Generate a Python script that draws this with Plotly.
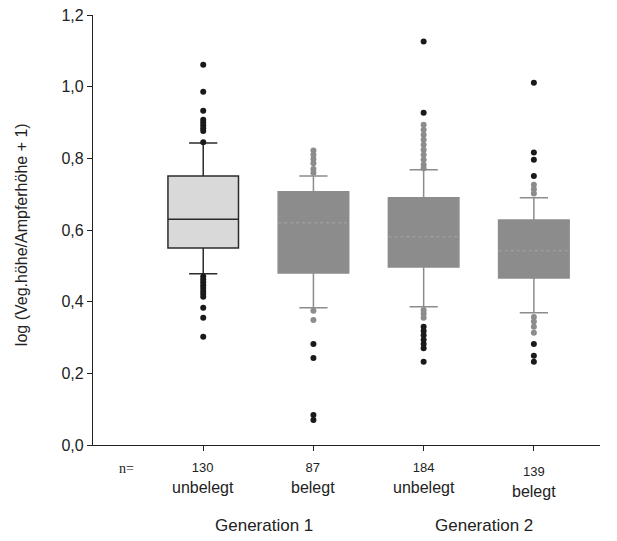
import plotly.graph_objects as go

# ---- data ----
categories = ["unbelegt", "belegt", "unbelegt", "belegt"]
n_values = [130, 87, 184, 139]
generations = ["Generation 1", "Generation 2"]

q1_vals = [0.550, 0.480, 0.497, 0.466]
median_vals = [0.630, 0.620, 0.581, 0.542]
q3_vals = [0.751, 0.707, 0.690, 0.628]
lower_whisker = [0.478, 0.383, 0.386, 0.369]
upper_whisker = [0.843, 0.751, 0.768, 0.690]

# outliers (black = extreme, gray = near whisker)
out_black = [
    [1.061, 0.986, 0.933, 0.908, 0.900, 0.892, 0.884, 0.876, 0.845,
     0.470, 0.462, 0.454, 0.446, 0.438, 0.430, 0.422, 0.414, 0.383, 0.355, 0.302],
    [0.282, 0.243, 0.084, 0.070],
    [1.126, 0.927, 0.330, 0.318, 0.306, 0.294, 0.282, 0.270, 0.232],
    [1.011, 0.816, 0.796, 0.751, 0.282, 0.249, 0.232],
]
out_gray = [
    [],
    [0.822, 0.810, 0.798, 0.786, 0.770, 0.760, 0.375, 0.349],
    [0.894, 0.880, 0.866, 0.852, 0.838, 0.824, 0.810, 0.796, 0.782, 0.772,
     0.377, 0.366, 0.355],
    [0.726, 0.714, 0.702, 0.357, 0.345, 0.330, 0.313],
]

y_title = "log (Veg.höhe/Ampferhöhe + 1)"

fill_colors = ["#d9d9d9", "#8c8c8c", "#8c8c8c", "#8c8c8c"]
line_colors = ["#2b2b2b", "#8c8c8c", "#8c8c8c", "#8c8c8c"]
box_width = 0.64

fig = go.Figure()
for i in range(4):
    fig.add_trace(go.Box(
        x=[i], q1=[q1_vals[i]], median=[median_vals[i]], q3=[q3_vals[i]],
        lowerfence=[lower_whisker[i]], upperfence=[upper_whisker[i]],
        boxpoints=False, width=box_width, whiskerwidth=0.4,
        fillcolor=fill_colors[i], line=dict(color=line_colors[i], width=1.5),
        showlegend=False, hoverinfo="skip"))
    if i > 0:
        fig.add_trace(go.Scatter(
            x=[i - box_width / 2, i + box_width / 2], y=[median_vals[i]] * 2,
            mode="lines", line=dict(color="#a6a6a6", width=1, dash="dot"),
            showlegend=False, hoverinfo="skip"))
    if out_gray[i]:
        fig.add_trace(go.Scatter(
            x=[i] * len(out_gray[i]), y=out_gray[i], mode="markers",
            marker=dict(color="#8c8c8c", size=6), showlegend=False,
            cliponaxis=False, hoverinfo="skip"))
    fig.add_trace(go.Scatter(
        x=[i] * len(out_black[i]), y=out_black[i], mode="markers",
        marker=dict(color="#1a1a1a", size=6), showlegend=False,
        cliponaxis=False, hoverinfo="skip"))

annotations = []
for i in range(4):
    shift = -4 if i == 3 else 0
    annotations.append(dict(
        x=i, y=0, xref="x", yref="y", yanchor="top", xanchor="center",
        yshift=-13 + shift, showarrow=False, align="center",
        text=f"<span style='font-size:13px'>{n_values[i]}</span><br>{categories[i]}",
        font=dict(family="Liberation Sans, Arial", size=16, color="#222")))
annotations.append(dict(
    x=-0.7, y=0, xref="x", yref="y", yanchor="top", xanchor="center",
    yshift=-14, showarrow=False, text="n=",
    font=dict(family="Liberation Serif, Times New Roman", size=14, color="#222")))
for g, xc in zip(generations, [0.55, 2.55]):
    annotations.append(dict(
        x=xc, y=0, xref="x", yref="y", yanchor="top", xanchor="center",
        yshift=-69, showarrow=False, text=g,
        font=dict(family="Liberation Sans, Arial", size=17, color="#222")))
annotations.append(dict(
    x=-0.142, y=0.488, xref="paper", yref="paper", xanchor="center",
    yanchor="middle", textangle=-90, showarrow=False, text=y_title,
    font=dict(family="Liberation Sans, Arial", size=16, color="#222")))

# page body has an 8px default margin, so the figure is sized to fit the window
fig.update_layout(
    width=609, height=533,
    margin=dict(l=85, r=17, t=7, b=96, autoexpand=False),
    paper_bgcolor="white", plot_bgcolor="white",
    separators=",.",
    annotations=annotations,
    font=dict(family="Liberation Sans, Arial", color="#222"),
    xaxis=dict(range=[-1.0, 3.6], tickvals=[0, 1, 2, 3], ticktext=["", "", "", ""],
               automargin=False,
               showgrid=False, zeroline=False, showline=True, linecolor="#222",
               linewidth=1.2, ticks="outside", ticklen=5, tickcolor="#222"),
    yaxis=dict(range=[0, 1.2], tickvals=[0, 0.2, 0.4, 0.6, 0.8, 1.0, 1.2],
               automargin=False, ticklabeloverflow="allow",
               tickformat=".1f", showgrid=False, zeroline=False, showline=True,
               linecolor="#222", linewidth=1.2, ticks="outside", ticklen=5,
               tickcolor="#222", tickfont=dict(size=16)),
)

fig.write_html("out.html")
